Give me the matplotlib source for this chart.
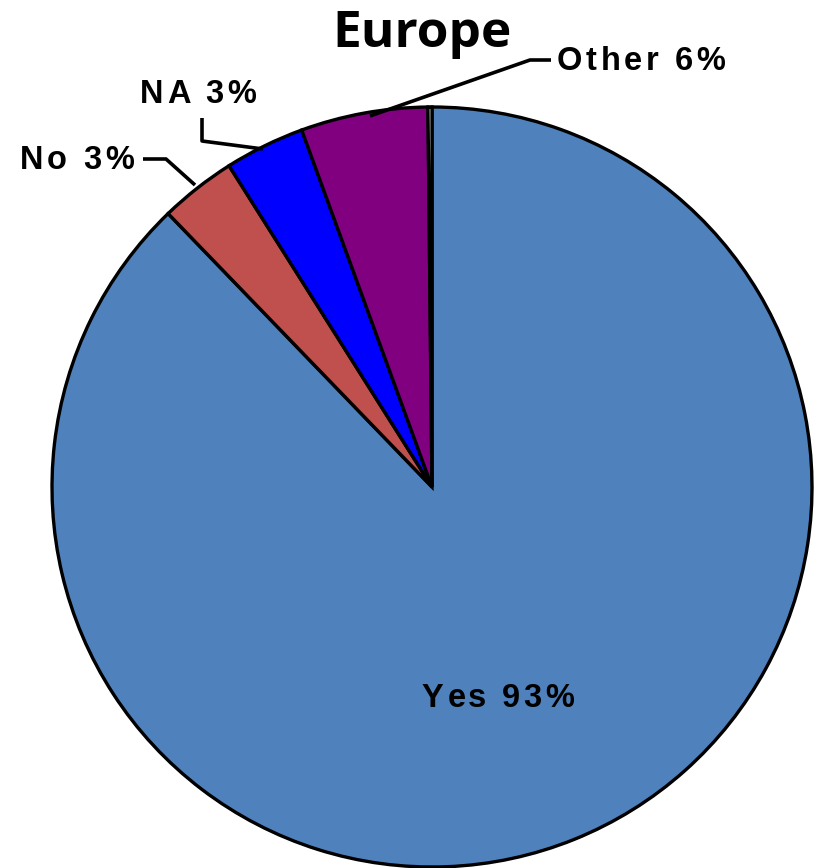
import matplotlib
matplotlib.use("Agg")
import matplotlib.pyplot as plt
from matplotlib.font_manager import FontProperties

# ---- data ----
categories = ["Yes", "No", "NA", "Other", ""]
values = [87.8, 3.25, 3.4, 5.4, 0.17]
pct_labels = ["Yes 93%", "No 3%", "NA 3%", "Other 6%"]
colors = ["#4F81BD", "#C0504D", "#0000FF", "#800080", "#FFFFFF"]
title = "Europe"

W, H = 817, 868
fig = plt.figure(figsize=(W / 100, H / 100), dpi=100)
ax = fig.add_axes([0, 0, 1, 1])

cx, cy, R = 432, H - 487, 380
ax.pie(values, colors=colors, startangle=90, counterclock=False,
       center=(cx, cy), radius=R,
       wedgeprops=dict(edgecolor="black", linewidth=2.4, joinstyle="miter"))
ax.set_aspect("auto")
ax.set_xlim(0, W)
ax.set_ylim(0, H)
ax.axis("off")

renderer = fig.canvas.get_renderer()
fp = FontProperties(family="Liberation Sans", weight="bold", size=23.5)


def text_width(s):
    t1 = ax.text(0, 0, s + "|", fontproperties=fp)
    w1 = t1.get_window_extent(renderer).width
    t1.remove()
    t2 = ax.text(0, 0, "|", fontproperties=fp)
    w2 = t2.get_window_extent(renderer).width
    t2.remove()
    return w1 - w2


def tracked(x, y_px, s, track=3.6):
    for i, ch in enumerate(s):
        if ch == " ":
            continue
        xi = x + text_width(s[:i]) + i * track
        ax.text(xi, H - y_px, ch, fontproperties=fp, ha="left", va="baseline",
                color="black")


# labels
tracked(422, 707, pct_labels[0])
tracked(20, 169, pct_labels[1])
tracked(140, 103, pct_labels[2])
tracked(557, 70, pct_labels[3])

# leader lines
lw = 2.6
def leader(pts):
    xs = [p[0] for p in pts]
    ys = [H - p[1] for p in pts]
    ax.plot(xs, ys, color="black", lw=lw, solid_capstyle="butt")

leader([(143, 159), (166, 159), (195, 185)])
leader([(202, 118), (202, 141), (263, 149)])
leader([(551, 60), (530, 60), (370, 116)])

ax.text(422, H - 47, title, ha="center", va="baseline", fontsize=37,
        fontweight="bold", family="Open Sans")

fig.savefig("out.png", dpi=100)
